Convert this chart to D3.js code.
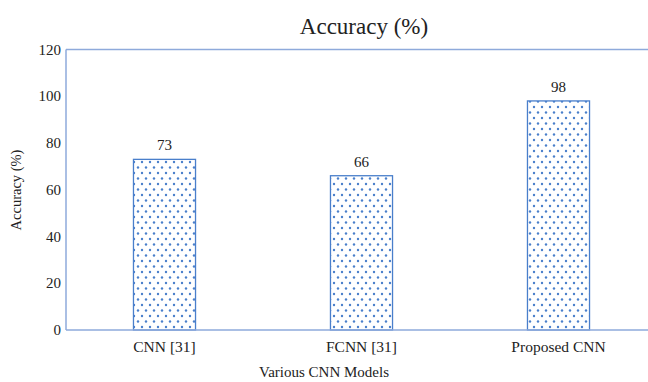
<!DOCTYPE html>
<html><head><meta charset="utf-8">
<script src="https://cdn.jsdelivr.net/npm/d3@7"></script>
<style>body{margin:0;background:#fff}svg{display:block}text{font-family:"Liberation Serif","Times New Roman",serif;fill:#222}</style>
</head><body><svg id="c" width="648" height="382"></svg>
<script>
const categories = ["CNN [31]", "FCNN [31]", "Proposed CNN"];
const accuracy = [73, 66, 98];
const yTicks = [0, 20, 40, 60, 80, 100, 120];
const title = "Accuracy (%)";
const xTitle = "Various CNN Models";
const yTitle = "Accuracy (%)";

const svg = d3.select("#c");
const L = 66, R = 657, T = 49.5, B = 330;
const x = d3.scaleBand().domain(categories).range([L, R]).paddingInner(0.685).paddingOuter(0.3425);
const y = d3.scaleLinear().domain([0, 120]).range([B, T]);

const defs = svg.append("defs");
const pat = defs.append("pattern").attr("id", "dots").attr("patternUnits", "userSpaceOnUse")
  .attr("width", 8).attr("height", 11);
pat.append("rect").attr("width", 8).attr("height", 11).attr("fill", "#fff");
pat.append("circle").attr("cx", 2).attr("cy", 2.5).attr("r", 1.2).attr("fill", "#4a7fcb");
pat.append("circle").attr("cx", 6).attr("cy", 8).attr("r", 1.2).attr("fill", "#4a7fcb");

// axes lines
svg.append("line").attr("x1", L).attr("x2", L).attr("y1", T).attr("y2", B).attr("stroke", "#8eaadb").attr("stroke-width", 1.5);
svg.append("line").attr("x1", L).attr("x2", 648).attr("y1", T).attr("y2", T).attr("stroke", "#8eaadb").attr("stroke-width", 1.5);

// bars
svg.selectAll("rect.bar").data(accuracy).join("rect").attr("class", "bar")
  .attr("x", (d, i) => x(categories[i]))
  .attr("y", d => y(d))
  .attr("width", x.bandwidth())
  .attr("height", d => y(0) - y(d))
  .attr("fill", "url(#dots)")
  .attr("stroke", "#4a7fcb").attr("stroke-width", 1.3);

svg.append("line").attr("x1", L).attr("x2", 648).attr("y1", B).attr("y2", B).attr("stroke", "#8eaadb").attr("stroke-width", 1.5);

// value labels
svg.selectAll("text.val").data(accuracy).join("text").attr("class", "val")
  .attr("x", (d, i) => x(categories[i]) + x.bandwidth() / 2)
  .attr("y", d => y(d) - 9)
  .attr("text-anchor", "middle").attr("font-size", 15).text(d => d);

// y ticks
svg.selectAll("text.yt").data(yTicks).join("text").attr("class", "yt")
  .attr("x", L - 5).attr("y", d => y(d) + 5)
  .attr("text-anchor", "end").attr("font-size", 15).text(d => d);

// x ticks
svg.selectAll("text.xt").data(categories).join("text").attr("class", "xt")
  .attr("x", d => x(d) + x.bandwidth() / 2).attr("y", 352)
  .attr("text-anchor", "middle").attr("font-size", 15.5).text(d => d);

svg.append("text").attr("x", 364).attr("y", 34).attr("text-anchor", "middle").attr("font-size", 23).text(title);
svg.append("text").attr("x", 324).attr("y", 377).attr("text-anchor", "middle").attr("font-size", 15).text(xTitle);
svg.append("text").attr("transform", "translate(21,190) rotate(-90)").attr("text-anchor", "middle").attr("font-size", 14.5).text(yTitle);
</script></body></html>
